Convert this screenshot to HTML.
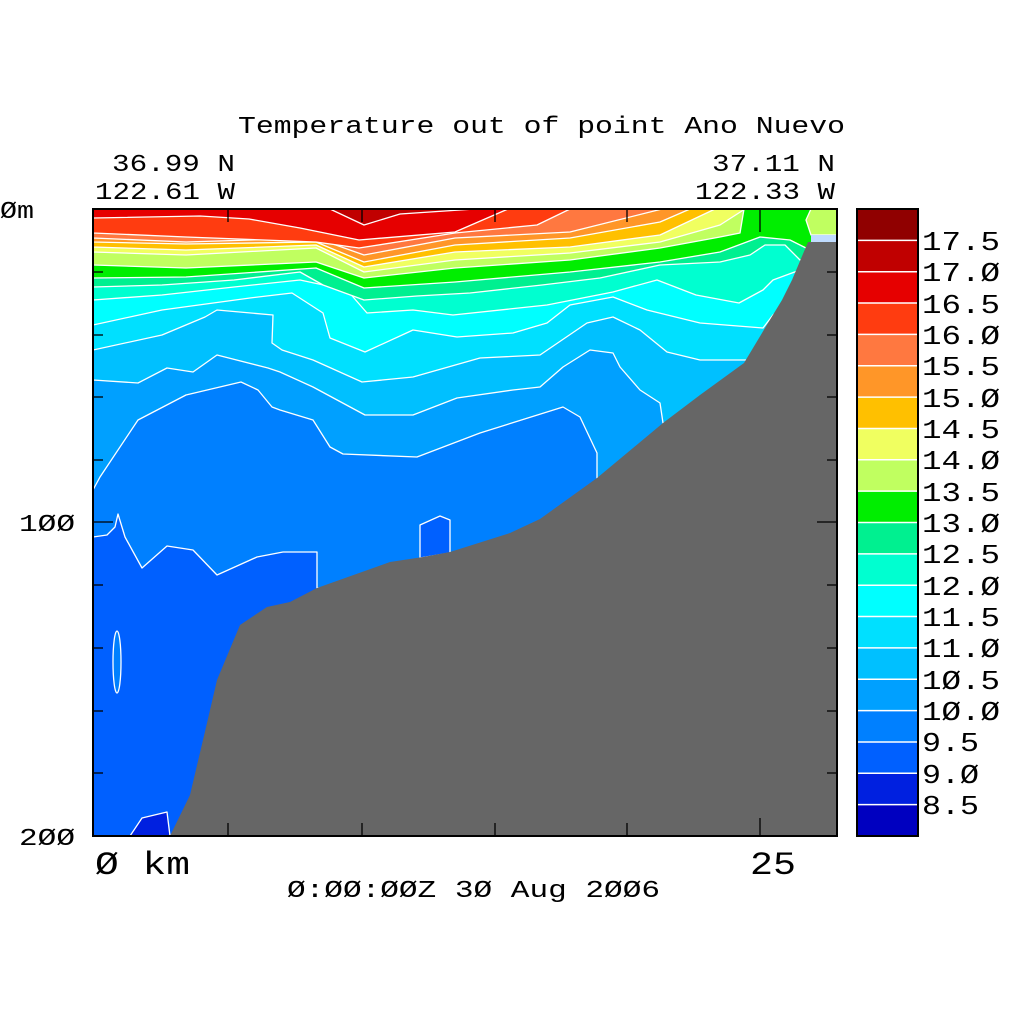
<!DOCTYPE html>
<html><head><meta charset="utf-8"><style>
html,body{margin:0;padding:0;background:#fff;}
svg{display:block;}
text{font-family:"Liberation Mono","DejaVu Sans Mono",monospace;fill:#000;}
</style></head><body>
<svg width="1024" height="1024" viewBox="0 0 1024 1024" xmlns="http://www.w3.org/2000/svg">
<rect width="1024" height="1024" fill="#fff"/>
<defs><clipPath id="c"><rect x="93" y="209" width="744" height="627"/></clipPath></defs>
<g clip-path="url(#c)" stroke="#fff" stroke-width="1.3" stroke-linejoin="round">
<rect x="93" y="209" width="744" height="627" fill="#0060ff" stroke="none"/>
<!-- >=9.5 -->
<polygon fill="#0080ff" points="93,209 837,209 837,588 317,588 317,552 283,552 257,557 217,575 193,550 167,546 142,568 125,537 118,514 115,527 107,535 93,537"/>
<polygon fill="#0060ff" points="420,558 420,525 440,516 450,520 450,553"/>
<ellipse cx="117" cy="662" rx="4" ry="31" fill="#0080ff"/>
<polygon fill="#0020e0" points="130,836 142,818 167,812 170,836"/>
<!-- >=10 -->
<polygon fill="#00a0ff" points="93,209 837,209 837,478 597,478 597,453 580,417 563,407 480,433 417,457 343,454 330,447 313,420 280,410 272,407 258,390 241,382 186,395 138,420 100,477 93,490"/>
<!-- >=10.5 -->
<polygon fill="#00c0ff" points="93,209 837,209 837,423 663,423 660,403 640,390 620,367 613,353 590,350 563,367 540,387 513,390 457,398 413,415 365,415 313,387 280,372 268,368 217,355 193,372 167,368 138,383 93,380"/>
<!-- >=11 -->
<polygon fill="#00e0ff" points="93,209 837,209 837,360 700,360 667,352 640,330 613,317 587,323 540,355 480,358 413,377 362,382 313,360 282,350 272,343 273,315 217,310 205,317 162,335 93,350"/>
<!-- >=11.5 -->
<polygon fill="#00ffff" points="93,209 837,209 837,300 790,300 773,315 763,328 700,323 647,310 613,297 570,305 547,323 513,333 457,337 413,330 365,352 330,338 323,313 292,293 250,298 162,310 93,325"/>
<!-- >=12 -->
<polygon fill="#00ffd0" points="93,209 837,209 837,270 800,270 773,280 763,290 739,303 696,295 657,280 613,292 547,305 453,315 413,310 367,313 347,290 300,280 234,287 162,295 93,300"/>
<!-- >=12.5 -->
<polygon fill="#00f090" points="93,209 837,209 837,260 800,260 785,245 765,245 750,255 720,262 660,265 600,278 542,285 470,293 417,296 364,300 323,285 300,272 234,280 162,285 93,287"/>
<!-- >=13 -->
<polygon fill="#00ee00" points="93,209 837,209 837,250 810,250 790,240 760,237 720,252 660,262 570,272 455,282 364,288 316,268 186,277 93,278"/>
<!-- >=13.5 -->
<polygon fill="#c0ff60" points="93,209 744,209 740,233 720,237 660,248 570,260 455,268 364,278 316,262 186,268 93,265"/>
<polygon fill="#c0ff60" points="811,209 837,209 837,235 811,235 806,220"/>
<!-- >=14 -->
<polygon fill="#f0ff60" points="93,209 745,209 720,225 660,242 570,253 455,260 364,272 316,248 186,255 93,252"/>
<!-- >=14.5 -->
<polygon fill="#ffc000" points="93,209 715,209 660,235 570,247 455,252 364,267 316,245 186,250 93,247"/>
<!-- >=15 -->
<polygon fill="#ff9628" points="93,209 690,209 660,222 570,238 455,245 364,262 316,242 186,244 93,242"/>
<!-- >=15.5 -->
<polygon fill="#ff7840" points="93,209 662,209 570,232 455,238 364,255 316,238 186,242 93,238"/>
<!-- >=16 -->
<polygon fill="#ff3c10" points="93,209 570,209 537,225 455,233 359,248 316,242 186,237 93,233"/>
<!-- >=16.5 -->
<polygon fill="#e60000" points="93,209 508,209 455,232 359,240 300,228 249,219 200,216 93,218"/>
<!-- >=17 -->
<polygon fill="#c00000" points="330,209 475,209 400,214 364,225"/>
<rect x="811" y="235" width="26" height="8" fill="#c0dcff" stroke="none"/>
<!-- land -->
<polygon fill="#666" stroke="none" points="170,836 190,795 207,723 217,680 240,625 267,607 290,602 317,588 390,562 423,557 450,552 510,533 540,519 597,478 663,423 700,395 744,363 768,323 782,300 792,280 808,242 837,242 837,836"/>
</g>
<!-- frame -->
<rect x="93" y="209" width="744" height="627" fill="none" stroke="#000" stroke-width="2"/>
<g stroke="#000" stroke-width="1.3">
<line x1="228" y1="209" x2="228" y2="222"/><line x1="362" y1="209" x2="362" y2="222"/><line x1="495" y1="209" x2="495" y2="222"/><line x1="627" y1="209" x2="627" y2="222"/><line x1="760" y1="209" x2="760" y2="232"/>
<line x1="228" y1="836" x2="228" y2="823"/><line x1="362" y1="836" x2="362" y2="823"/><line x1="495" y1="836" x2="495" y2="823"/><line x1="627" y1="836" x2="627" y2="823"/><line x1="760" y1="836" x2="760" y2="818"/>
<line x1="93" y1="272" x2="103" y2="272"/><line x1="93" y1="335" x2="103" y2="335"/><line x1="93" y1="397" x2="103" y2="397"/><line x1="93" y1="460" x2="103" y2="460"/><line x1="93" y1="522" x2="113" y2="522"/><line x1="93" y1="585" x2="103" y2="585"/><line x1="93" y1="648" x2="103" y2="648"/><line x1="93" y1="711" x2="103" y2="711"/><line x1="93" y1="773" x2="103" y2="773"/>
<line x1="827" y1="272" x2="837" y2="272"/><line x1="827" y1="335" x2="837" y2="335"/><line x1="827" y1="397" x2="837" y2="397"/><line x1="827" y1="460" x2="837" y2="460"/><line x1="817" y1="522" x2="837" y2="522"/><line x1="827" y1="585" x2="837" y2="585"/><line x1="827" y1="648" x2="837" y2="648"/><line x1="827" y1="711" x2="837" y2="711"/><line x1="827" y1="773" x2="837" y2="773"/>
</g>
<!-- colorbar -->
<g>
<rect x="857" y="209.0" width="61" height="31.35" fill="#900000"/>
<rect x="857" y="240.35" width="61" height="31.35" fill="#c00000"/>
<rect x="857" y="271.7" width="61" height="31.35" fill="#e60000"/>
<rect x="857" y="303.05" width="61" height="31.35" fill="#ff3c10"/>
<rect x="857" y="334.4" width="61" height="31.35" fill="#ff7840"/>
<rect x="857" y="365.75" width="61" height="31.35" fill="#ff9628"/>
<rect x="857" y="397.1" width="61" height="31.35" fill="#ffc000"/>
<rect x="857" y="428.45" width="61" height="31.35" fill="#f0ff60"/>
<rect x="857" y="459.8" width="61" height="31.35" fill="#c0ff60"/>
<rect x="857" y="491.15" width="61" height="31.35" fill="#00ee00"/>
<rect x="857" y="522.5" width="61" height="31.35" fill="#00f090"/>
<rect x="857" y="553.85" width="61" height="31.35" fill="#00ffd0"/>
<rect x="857" y="585.2" width="61" height="31.35" fill="#00ffff"/>
<rect x="857" y="616.55" width="61" height="31.35" fill="#00e0ff"/>
<rect x="857" y="647.9" width="61" height="31.35" fill="#00c0ff"/>
<rect x="857" y="679.25" width="61" height="31.35" fill="#00a0ff"/>
<rect x="857" y="710.6" width="61" height="31.35" fill="#0080ff"/>
<rect x="857" y="741.95" width="61" height="31.35" fill="#0060ff"/>
<rect x="857" y="773.3" width="61" height="31.35" fill="#0020e0"/>
<rect x="857" y="804.65" width="61" height="31.35" fill="#0000c0"/>
</g>
<g stroke="#fff" stroke-width="1.5">
<line x1="858" x2="917" y1="240.35" y2="240.35"/><line x1="858" x2="917" y1="271.7" y2="271.7"/><line x1="858" x2="917" y1="303.05" y2="303.05"/><line x1="858" x2="917" y1="334.4" y2="334.4"/><line x1="858" x2="917" y1="365.75" y2="365.75"/><line x1="858" x2="917" y1="397.1" y2="397.1"/><line x1="858" x2="917" y1="428.45" y2="428.45"/><line x1="858" x2="917" y1="459.8" y2="459.8"/><line x1="858" x2="917" y1="491.15" y2="491.15"/><line x1="858" x2="917" y1="522.5" y2="522.5"/><line x1="858" x2="917" y1="553.85" y2="553.85"/><line x1="858" x2="917" y1="585.2" y2="585.2"/><line x1="858" x2="917" y1="616.55" y2="616.55"/><line x1="858" x2="917" y1="647.9" y2="647.9"/><line x1="858" x2="917" y1="679.25" y2="679.25"/><line x1="858" x2="917" y1="710.6" y2="710.6"/><line x1="858" x2="917" y1="741.95" y2="741.95"/><line x1="858" x2="917" y1="773.3" y2="773.3"/><line x1="858" x2="917" y1="804.65" y2="804.65"/>
</g>
<rect x="857" y="209" width="61" height="627" fill="none" stroke="#000" stroke-width="2"/>
<g font-size="27">
<text x="922" y="250" textLength="78" lengthAdjust="spacingAndGlyphs">17.5</text>
<text x="922" y="281" textLength="78" lengthAdjust="spacingAndGlyphs">17.Ø</text>
<text x="922" y="313" textLength="78" lengthAdjust="spacingAndGlyphs">16.5</text>
<text x="922" y="344" textLength="78" lengthAdjust="spacingAndGlyphs">16.Ø</text>
<text x="922" y="375" textLength="78" lengthAdjust="spacingAndGlyphs">15.5</text>
<text x="922" y="407" textLength="78" lengthAdjust="spacingAndGlyphs">15.Ø</text>
<text x="922" y="438" textLength="78" lengthAdjust="spacingAndGlyphs">14.5</text>
<text x="922" y="469" textLength="78" lengthAdjust="spacingAndGlyphs">14.Ø</text>
<text x="922" y="501" textLength="78" lengthAdjust="spacingAndGlyphs">13.5</text>
<text x="922" y="532" textLength="78" lengthAdjust="spacingAndGlyphs">13.Ø</text>
<text x="922" y="563" textLength="78" lengthAdjust="spacingAndGlyphs">12.5</text>
<text x="922" y="595" textLength="78" lengthAdjust="spacingAndGlyphs">12.Ø</text>
<text x="922" y="626" textLength="78" lengthAdjust="spacingAndGlyphs">11.5</text>
<text x="922" y="657" textLength="78" lengthAdjust="spacingAndGlyphs">11.Ø</text>
<text x="922" y="689" textLength="78" lengthAdjust="spacingAndGlyphs">1Ø.5</text>
<text x="922" y="720" textLength="78" lengthAdjust="spacingAndGlyphs">1Ø.Ø</text>
<text x="922" y="751" textLength="57" lengthAdjust="spacingAndGlyphs">9.5</text>
<text x="922" y="783" textLength="57" lengthAdjust="spacingAndGlyphs">9.Ø</text>
<text x="922" y="814" textLength="57" lengthAdjust="spacingAndGlyphs">8.5</text>
</g>
<g font-size="24">
<text x="238" y="133" textLength="607" lengthAdjust="spacingAndGlyphs">Temperature out of point Ano Nuevo</text>
<text x="112" y="171" textLength="123" lengthAdjust="spacingAndGlyphs">36.99 N</text>
<text x="95" y="199" textLength="140" lengthAdjust="spacingAndGlyphs">122.61 W</text>
<text x="712" y="171" textLength="123" lengthAdjust="spacingAndGlyphs">37.11 N</text>
<text x="695" y="199" textLength="140" lengthAdjust="spacingAndGlyphs">122.33 W</text>
<text x="287" y="897" textLength="373" lengthAdjust="spacingAndGlyphs">Ø:ØØ:ØØZ  3Ø Aug 2ØØ6</text>
<text x="0" y="218" textLength="34" lengthAdjust="spacingAndGlyphs">Øm</text>
<text x="19" y="531" textLength="56" lengthAdjust="spacingAndGlyphs">1ØØ</text>
<text x="19" y="845" textLength="56" lengthAdjust="spacingAndGlyphs">2ØØ</text>
</g>
<g font-size="32">
<text x="95" y="874" textLength="95" lengthAdjust="spacingAndGlyphs">Ø km</text>
<text x="750" y="874" textLength="46" lengthAdjust="spacingAndGlyphs">25</text>
</g>
</svg>
</body></html>
